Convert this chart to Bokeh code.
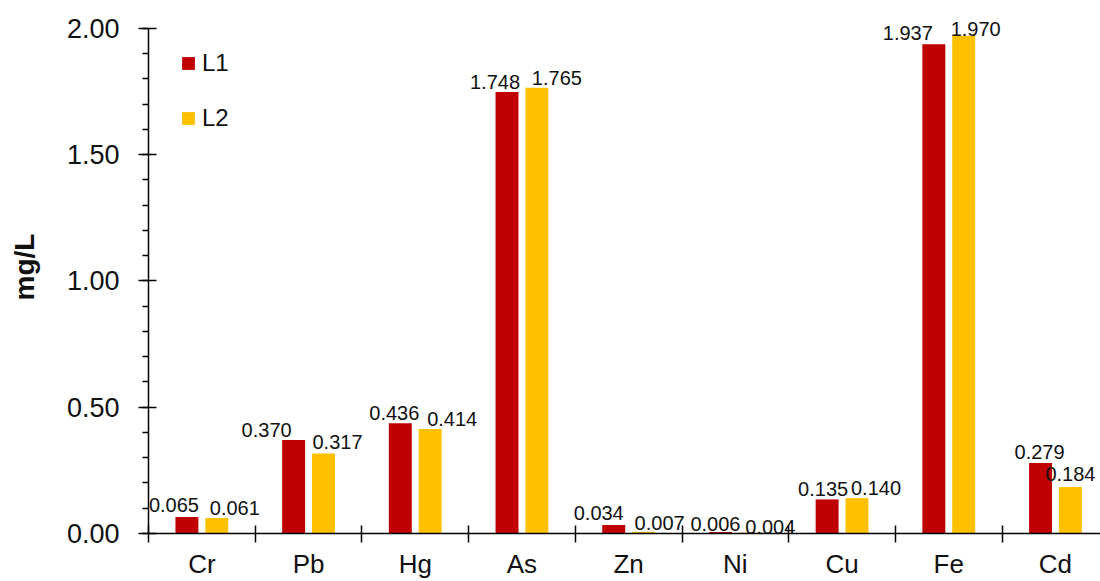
from bokeh.plotting import figure
from bokeh.models import (Range1d, FixedTicker, NumeralTickFormatter, CustomJSTickFormatter,
                          ColumnDataSource, Legend, LegendItem)
from bokeh.core.properties import value
from bokeh.embed import file_html
from bokeh.resources import INLINE

# ---- data ----
categories = ["Cr", "Pb", "Hg", "As", "Zn", "Ni", "Cu", "Fe", "Cd"]
L1 = [0.065, 0.370, 0.436, 1.748, 0.034, 0.006, 0.135, 1.937, 0.279]
L2 = [0.061, 0.317, 0.414, 1.765, 0.007, 0.004, 0.140, 1.970, 0.184]
y_ticks = [0.0, 0.5, 1.0, 1.5, 2.0]

# ---- label placement (style: pixel offsets of the value labels) ----
L1_label_dx = [-13, -27, -6, -12, -15, -5, -4, -26, -1]
L2_label_dx = [18, 14, 22, 20, 16, 20, 19, 12, 0]
L1_label_dy = [12, 10, 10, 10, 12, 8, 10, 11, 11]
L2_label_dy = [10, 11, 10, 10, 9, 5, 10, 7, 13]

FONT = "Liberation Sans"
RED = "#C00000"
GOLD = "#FFC000"

idx = list(range(len(categories)))
off = 0.14
bw = 0.215

src1 = ColumnDataSource(dict(x=[i - off for i in idx], top=L1,
                             lab=[f"{v:.3f}" for v in L1],
                             dx=L1_label_dx, dy=[-d for d in L1_label_dy]))
src2 = ColumnDataSource(dict(x=[i + off for i in idx], top=L2,
                             lab=[f"{v:.3f}" for v in L2],
                             dx=L2_label_dx, dy=[-d for d in L2_label_dy]))

p = figure(width=1100, height=581, output_backend="svg", toolbar_location=None,
           x_range=Range1d(-0.5, 8.422), y_range=Range1d(0, 2.11),
           min_border_left=148, min_border_right=0, min_border_top=0, min_border_bottom=48)
p.outline_line_color = None
p.xgrid.visible = False
p.ygrid.visible = False
p.background_fill_color = "white"
p.border_fill_color = "white"

r1 = p.vbar(x="x", top="top", width=bw, source=src1, fill_color=RED, line_color=None)
r2 = p.vbar(x="x", top="top", width=bw, source=src2, fill_color=GOLD, line_color=None)

for s in (src1, src2):
    p.text(x="x", y="top", text="lab", source=s, x_offset="dx", y_offset="dy",
           text_align="center", text_baseline="alphabetic",
           text_font=value(FONT), text_font_size="20px", text_color="#111111")

# x axis
xa = p.xaxis[0]
xa.ticker = FixedTicker(ticks=idx, minor_ticks=[i - 0.5 for i in range(len(categories) + 1)])
xa.formatter = CustomJSTickFormatter(args=dict(names=categories),
                                     code="const i = Math.round(tick); return names[i] || '';")
xa.major_tick_line_color = None
xa.major_tick_out = 0
xa.major_tick_in = 0
xa.minor_tick_line_color = "black"
xa.minor_tick_line_width = 1.5
xa.minor_tick_in = 8
xa.minor_tick_out = 9
xa.axis_line_color = "black"
xa.axis_line_width = 1.5
xa.major_label_standoff = 6
xa.major_label_text_font = FONT
xa.major_label_text_font_size = "26px"
xa.major_label_text_color = "#111111"

# y axis
ya = p.yaxis[0]
ya.ticker = FixedTicker(ticks=y_ticks, minor_ticks=[k / 10 for k in range(21)])
ya.formatter = NumeralTickFormatter(format="0.00")
ya.bounds = (0, 2)
ya.axis_line_color = "black"
ya.axis_line_width = 1.5
ya.major_tick_line_width = 1.5
ya.minor_tick_line_width = 1.5
ya.major_tick_in = 8
ya.major_tick_out = 10
ya.minor_tick_in = 0
ya.minor_tick_out = 6
ya.minor_tick_line_color = "black"
ya.major_label_standoff = 19
ya.major_label_text_font = FONT
ya.major_label_text_font_size = "27px"
ya.major_label_text_color = "#111111"
ya.axis_label = "mg/L"
ya.axis_label_text_font = FONT
ya.axis_label_text_font_size = "28px"
ya.axis_label_text_font_style = "bold"
ya.axis_label_text_color = "#111111"
ya.axis_label_standoff = 24

legend = Legend(items=[LegendItem(label="L1", renderers=[r1]),
                       LegendItem(label="L2", renderers=[r2])],
                location=(32, 401), orientation="vertical",
                glyph_width=16, glyph_height=16, label_height=26, spacing=27,
                padding=0, margin=0, label_standoff=6,
                label_text_font=FONT, label_text_font_size="24px", label_text_color="#111111",
                border_line_color=None, background_fill_alpha=0)
p.add_layout(legend)

open("out.html", "w").write(file_html(p, INLINE))
